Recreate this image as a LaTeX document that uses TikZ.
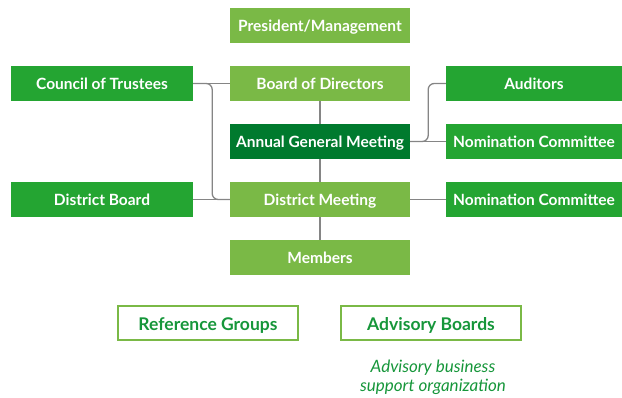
\documentclass[tikz,border=0pt]{standalone}
\usepackage{fontspec}
\setmainfont{Lato}
\definecolor{lightgreen}{HTML}{7AB946}
\definecolor{midgreen}{HTML}{24A532}
\definecolor{darkgreen}{HTML}{007A2E}
\definecolor{textgreen}{HTML}{16963A}
\definecolor{linkgray}{HTML}{858585}
\tikzset{
    orgbox/.style={minimum height=35pt, inner sep=0pt, text height=12.5pt, text depth=0pt, text=white, font=\bfseries\fontsize{15.5}{17}\selectfont},
    mainbox/.style={orgbox, fill=lightgreen, minimum width=180pt},
    sidebox/.style={orgbox, fill=midgreen, minimum width=182pt},
    rightbox/.style={orgbox, fill=midgreen, minimum width=176pt},
    groupbox/.style={minimum height=34pt, minimum width=180pt, inner sep=0pt, text height=13.5pt, text depth=0pt, draw=lightgreen, line width=2pt, text=textgreen, font=\bfseries\fontsize{17.5}{19}\selectfont},
    link/.style={draw=linkgray, line width=1.3pt}
}
\begin{document}
\begin{tikzpicture}[yscale=-1,x=1pt,y=1pt]
    \useasboundingbox (0,0) rectangle (622,398);

    % middle column
    \node[mainbox] (president) at (320,25.5) {President/Management};
    \node[mainbox] (board) at (320,83.5) {Board of Directors};
    \node[mainbox,fill=darkgreen] (agm) at (320,141.5) {Annual General Meeting};
    \node[mainbox] (dmeet) at (320,199.5) {District Meeting};
    \node[mainbox] (members) at (320,257.5) {Members};

    % left column
    \node[sidebox] (trustees) at (102,83.5) {Council of Trustees};
    \node[sidebox] (dboard) at (102,199.5) {District Board};

    % right column
    \node[rightbox] (auditors) at (534,83.5) {Auditors};
    \node[rightbox] (nomination) at (534,141.5) {Nomination Committee};
    \node[rightbox] (dnomination) at (534,199.5) {Nomination Committee};

    % outlined groups
    \node[groupbox] (refgroups) at (208,323.5) {Reference Groups};
    \node[groupbox] (advisory) at (431,323.5) {Advisory Boards};
    \node[text=textgreen, font=\itshape\fontsize{17}{19}\selectfont, align=center] (advnote) at (433,377.5) {Advisory business\\support organization};

    % connectors
    \draw[link] (trustees.east) -- (board.west);
    \draw[link] (dboard.east) -- (dmeet.west);
    \draw[link] (board.south) -- (agm.north);
    \draw[link] (agm.south) -- (dmeet.north);
    \draw[link] (dmeet.south) -- (members.north);
    \draw[link] (agm.east) -- (nomination.west);
    \draw[link] (dmeet.east) -- (dnomination.west);
    \draw[link,rounded corners=6pt] (trustees.east) -- ++(19,0) |- (dmeet.west);
    \draw[link,rounded corners=6pt] (agm.east) -- ++(18,0) |- (auditors.west);
\end{tikzpicture}
\end{document}
